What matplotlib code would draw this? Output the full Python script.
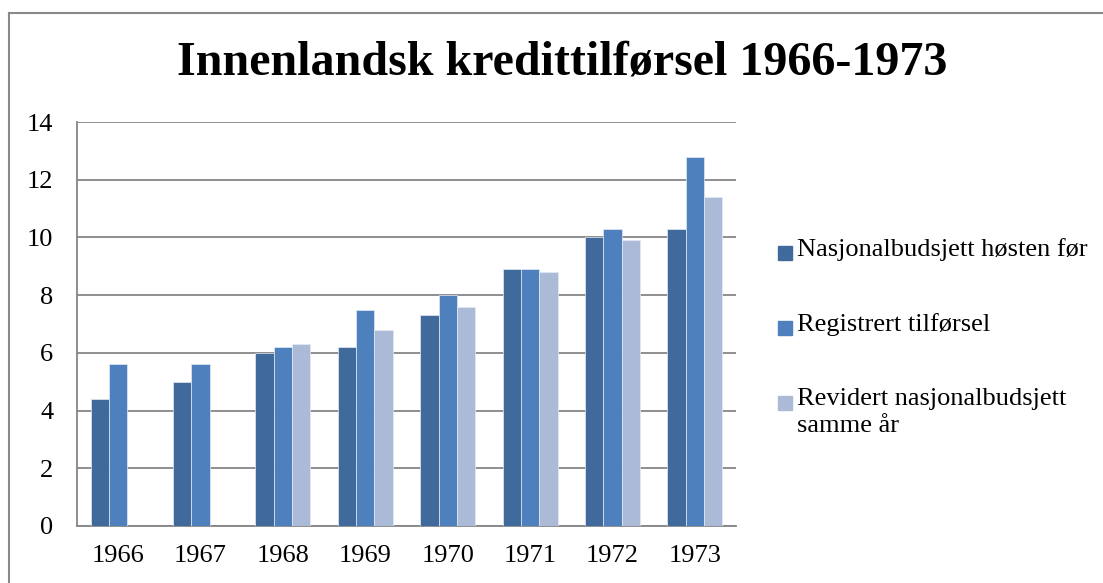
import numpy as np
import matplotlib
matplotlib.use("Agg")
from matplotlib import pyplot as plt
from matplotlib.lines import Line2D
from matplotlib.patches import Rectangle

# data
years = ["1966", "1967", "1968", "1969", "1970", "1971", "1972", "1973"]
nasjonalbudsjett = [4.4, 5.0, 6.0, 6.2, 7.3, 8.9, 10.0, 10.3]
registrert = [5.6, 5.6, 6.2, 7.5, 8.0, 8.9, 10.3, 12.8]
revidert = [np.nan, np.nan, 6.3, 6.8, 7.6, 8.8, 9.9, 11.4]
series_names = ["Nasjonalbudsjett høsten før", "Registrert tilførsel",
                "Revidert nasjonalbudsjett\nsamme år"]
colors = ["#406a9c", "#4e80bd", "#aabad7"]
yticks = [0, 2, 4, 6, 8, 10, 12, 14]

plt.rcParams['font.family'] = ['Liberation Serif', 'DejaVu Serif']

fig = plt.figure(figsize=(11.03, 5.83), dpi=100)
ax = fig.add_axes([77 / 1103, 1 - 526 / 583, (736 - 77) / 1103, (526 - 122) / 583])

x = np.arange(len(years))
w = 1 / 4.5  # excel gap width 150%
for i, (vals, c) in enumerate(zip([nasjonalbudsjett, registrert, revidert], colors)):
    ax.bar(x + (i - 1) * w, vals, width=w, color=c, edgecolor="#e4eaf4",
           linewidth=0.5, zorder=3)

ax.set_xlim(-0.5, len(years) - 0.5)
ax.set_ylim(0, 14)
ax.set_yticks(yticks)
ax.set_xticks(x)
ax.set_xticklabels(years)
ax.grid(axis="y", color="#868686", linewidth=1.3, zorder=0)
ax.tick_params(axis="both", length=0, labelsize=19)
ax.tick_params(axis="y", pad=17)
ax.tick_params(axis="x", pad=14)
for s in ["top", "right"]:
    ax.spines[s].set_visible(False)
for s in ["left", "bottom"]:
    ax.spines[s].set_color("#868686")
    ax.spines[s].set_linewidth(1.3)

fig.text(562 / 1103, 1 - 62 / 583, "Innenlandsk kredittilførsel 1966-1973",
         ha="center", va="center", fontsize=34.6, fontweight="bold")

# legend drawn by hand so the square sits on the first line
leg_y = [253, 328, 403]
for name, c, yy in zip(series_names, colors, leg_y):
    fig.patches.append(Rectangle((778 / 1103, 1 - (yy + 7) / 583), 14 / 1103, 14 / 583,
                                 transform=fig.transFigure, color=c))
    fig.text(797 / 1103, 1 - (yy - 15) / 583, name, ha="left", va="top",
             fontsize=19, linespacing=1.3)

# chart border (left and top visible)
fig.add_artist(Line2D([9 / 1103, 9 / 1103], [0, 1 - 13 / 583], transform=fig.transFigure,
                      color="#898989", linewidth=1.5))
fig.add_artist(Line2D([9 / 1103, 1], [1 - 13 / 583, 1 - 13 / 583], transform=fig.transFigure,
                      color="#898989", linewidth=1.5))

fig.savefig("out.png", dpi=100)
